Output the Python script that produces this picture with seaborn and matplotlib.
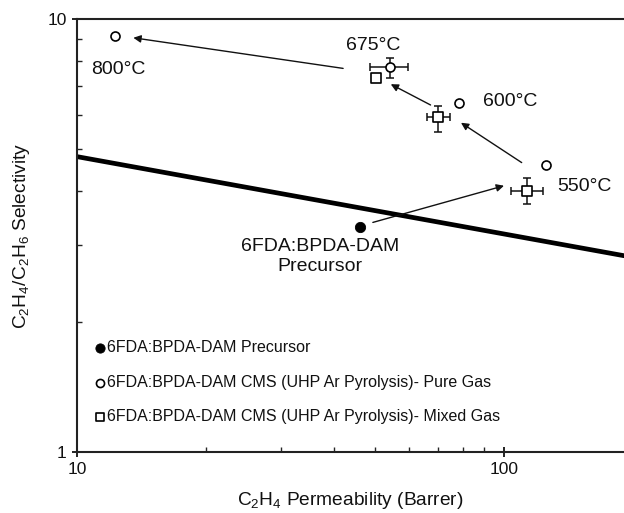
import numpy as np
import pandas as pd
import matplotlib
matplotlib.use("Agg")
import matplotlib.pyplot as plt
from matplotlib.ticker import LogLocator, NullFormatter, FixedLocator, FixedFormatter
import seaborn as sns

sns.set_theme(style="ticks")
plt.rcParams['font.family'] = ['Liberation Sans', 'DejaVu Sans']
plt.rcParams['mathtext.fontset'] = 'custom'
plt.rcParams['mathtext.rm'] = 'Liberation Sans'
plt.rcParams['mathtext.default'] = 'regular'

# ---- data ----
precursor_perm = [46.1]
precursor_sel = [3.30]

pure_temps = ["800°C", "675°C", "600°C", "550°C"]
pure_perm = [12.3, 54.1, 78.4, 125.3]
pure_sel = [9.14, 7.73, 6.41, 4.61]
pure_xerr_lo = [0, 5.6, 0, 0]
pure_xerr_hi = [0, 5.6, 0, 0]
pure_yerr_lo = [0, 0.44, 0, 0]
pure_yerr_hi = [0, 0.38, 0, 0]

mixed_perm = [50.1, 70.2, 113.2]
mixed_sel = [7.32, 5.93, 4.01]
mixed_xerr_lo = [0, 4.1, 9.5]
mixed_xerr_hi = [0, 4.5, 10.4]
mixed_yerr_lo = [0, 0.44, 0.27]
mixed_yerr_hi = [0, 0.37, 0.28]

bound_perm = [10, 191]
bound_sel = [4.81, 2.84]

# arrows: (x_start, y_start, x_end, y_end)
arrow_x0 = [49.3, 110.0, 67.3, 42.0]
arrow_y0 = [3.39, 4.66, 6.33, 7.69]
arrow_x1 = [100.0, 79.3, 54.3, 13.55]
arrow_y1 = [4.12, 5.76, 7.07, 9.05]

label_texts = ["800°C", "675°C", "600°C", "550°C", "6FDA:BPDA-DAM\nPrecursor"]
label_x = [12.5, 49.3, 89.3, 132.9, 37.1]
label_y = [7.63, 8.68, 6.44, 4.10, 2.83]
label_ha = ["center", "center", "left", "left", "center"]

legend_labels = ["6FDA:BPDA-DAM Precursor",
                 "6FDA:BPDA-DAM CMS (UHP Ar Pyrolysis)- Pure Gas",
                 "6FDA:BPDA-DAM CMS (UHP Ar Pyrolysis)- Mixed Gas"]

fig = plt.figure(figsize=(6.24, 5.13), dpi=100)
ax = fig.add_axes([77/624, 1-452/513, 1-77/624, (452-19)/513])
ax.set_xscale('log')
ax.set_yscale('log')

# upper bound line
sns.lineplot(x=bound_perm, y=bound_sel, ax=ax, color='black', lw=3.4, legend=False)

# error bars
ax.errorbar(pure_perm, pure_sel, xerr=[pure_xerr_lo, pure_xerr_hi],
            yerr=[pure_yerr_lo, pure_yerr_hi], fmt='none', ecolor='#111111',
            elinewidth=1.1, capsize=3.2, capthick=1.1, zorder=2)
ax.errorbar(mixed_perm, mixed_sel, xerr=[mixed_xerr_lo, mixed_xerr_hi],
            yerr=[mixed_yerr_lo, mixed_yerr_hi], fmt='none', ecolor='#111111',
            elinewidth=1.1, capsize=3.2, capthick=1.1, zorder=2)

sns.scatterplot(x=precursor_perm, y=precursor_sel, ax=ax, marker='o', s=55,
                color='black', edgecolor='black', label=legend_labels[0], zorder=3)
sns.scatterplot(x=pure_perm, y=pure_sel, ax=ax, marker='o', s=42,
                facecolor='white', edgecolor='black', linewidth=1.2,
                label=legend_labels[1], zorder=3)
sns.scatterplot(x=mixed_perm, y=mixed_sel, ax=ax, marker='s', s=42,
                facecolor='white', edgecolor='black', linewidth=1.2,
                label=legend_labels[2], zorder=3)

for x0, y0, x1, y1 in zip(arrow_x0, arrow_y0, arrow_x1, arrow_y1):
    ax.annotate("", xy=(x1, y1), xytext=(x0, y0),
                arrowprops=dict(arrowstyle='-|>', color='#111111', lw=1.0,
                                mutation_scale=11, shrinkA=0, shrinkB=0))

for t, x, y, ha in zip(label_texts, label_x, label_y, label_ha):
    ax.text(x, y, t, ha=ha, va='center', fontsize=14, linespacing=1.25,
            color='#111111')

ax.set_xlim(10, 191)
ax.set_ylim(1, 10)

ax.xaxis.set_major_locator(FixedLocator([10, 100]))
ax.xaxis.set_major_formatter(FixedFormatter(['10', '100']))
ax.xaxis.set_minor_locator(LogLocator(base=10, subs=np.arange(2, 10)))
ax.xaxis.set_minor_formatter(NullFormatter())
ax.yaxis.set_major_locator(FixedLocator([1, 10]))
ax.yaxis.set_major_formatter(FixedFormatter(['1', '10']))
ax.yaxis.set_minor_locator(LogLocator(base=10, subs=np.arange(2, 10)))
ax.yaxis.set_minor_formatter(NullFormatter())

ax.tick_params(which='major', direction='inout', length=7, width=1.3,
               labelsize=12.5, colors='#111111', pad=4)
ax.tick_params(which='minor', direction='in', length=3.5, width=1.0)
ax.tick_params(top=False, right=False, which='both')

for side in ['left', 'bottom', 'top']:
    ax.spines[side].set_linewidth(1.5)
    ax.spines[side].set_color('#222222')
ax.spines['right'].set_visible(False)

ax.set_xlabel("C$_2$H$_4$ Permeability (Barrer)", fontsize=13.8, labelpad=9,
              color='#111111')
ax.set_ylabel("C$_2$H$_4$/C$_2$H$_6$ Selectivity", fontsize=13.8, labelpad=11,
              color='#111111')

leg = ax.legend(loc='upper left', bbox_to_anchor=(0.003, 0.28), frameon=False,
                fontsize=11.5, handletextpad=-0.35, labelspacing=1.22,
                handlelength=1.5, borderaxespad=0.2, markerscale=0.9)
for txt in leg.get_texts():
    txt.set_color('#111111')

fig.savefig("out.png", dpi=100)
